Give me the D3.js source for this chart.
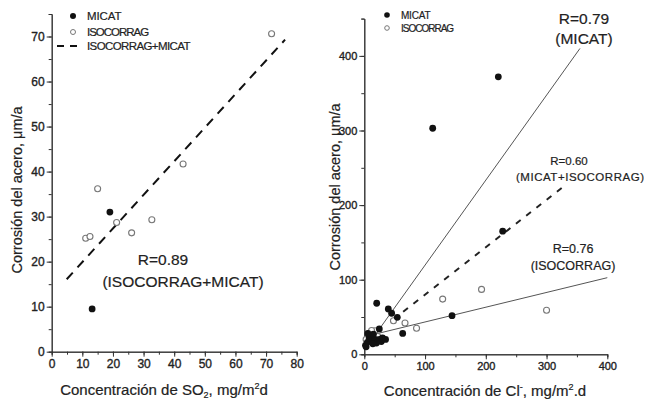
<!DOCTYPE html>
<html>
<head>
<meta charset="utf-8">
<script src="https://cdn.jsdelivr.net/npm/d3@7"></script>
<style>
body { margin:0; background:#fff; }
svg { font-family: "Liberation Sans", Arial, sans-serif; }
.axis path, .axis line { stroke:#333; }
.axis text { fill:#222; stroke:#222; stroke-width:0.35px; font-size:12px; }
.lbl { fill:#222; stroke:#222; stroke-width:0.2px; }
</style>
</head>
<body>
<div id="chart"></div>
<script>
// left panel: SO2
var so2_micat_x = [19.0, 13.2];
var so2_micat_y = [31.0, 9.5];
var so2_iso_x = [71.8, 42.9, 15.0, 11.1, 12.5, 21.2, 26.1, 32.7];
var so2_iso_y = [70.6, 41.7, 36.2, 25.2, 25.6, 28.7, 26.4, 29.3];
var so2_fit_x = [4.9, 76.2];
var so2_fit_y = [16.1, 69.3];
var so2_xticks = [0, 10, 20, 30, 40, 50, 60, 70, 80];
var so2_yticks = [0, 10, 20, 30, 40, 50, 60, 70];

// right panel: Cl-
var cl_micat_x = [112.6, 220.6, 227.8, 144.4, 63.2, 20.4, 39.5, 45, 54.3, 24.7,
                  2, 5, 8, 10, 12, 15, 18, 20, 25, 28, 30, 35, 6, 3, 14];
var cl_micat_y = [303, 372, 165, 51.8, 28, 68.4, 60.7, 55, 49.6, 34,
                  12, 16, 22, 25, 18, 27, 20, 15, 20, 17, 22, 20, 28, 10, 14];
var cl_iso_x = [193, 300, 129, 86, 67, 48, 17.6, 3, 8, 12, 22];
var cl_iso_y = [87, 59, 74, 35, 42, 45, 31.6, 20, 28, 32, 24];
var cl_fit_micat_x = [15, 355];
var cl_fit_micat_y = [22.7, 410];
var cl_fit_all_x = [64, 325];
var cl_fit_all_y = [57.1, 222.9];
var cl_fit_iso_x = [15, 400];
var cl_fit_iso_y = [26.5, 102.7];
var cl_xticks = [0, 100, 200, 300, 400];
var cl_yticks = [0, 100, 200, 300, 400];

var svg = d3.select("#chart").append("svg").attr("width", 651).attr("height", 402);

function pairs(xs, ys) { return xs.map(function(x, i) { return [x, ys[i]]; }); }

function panel(cfg) {
    var g = svg.append("g");
    var x = d3.scaleLinear().domain(cfg.xdom).range(cfg.xr);
    var y = d3.scaleLinear().domain(cfg.ydom).range(cfg.yr);

    var minorX = d3.range(cfg.xdom[0], cfg.xdom[1] + 0.001, cfg.xminor);
    var minorY = d3.range(cfg.ydom[0], cfg.ydom[1] + 0.001, cfg.yminor);

    g.append("g").attr("class", "axis").attr("transform", "translate(0," + cfg.yr[0] + ")")
        .call(d3.axisBottom(x).tickValues(minorX).tickSize(3).tickFormat(""));
    g.append("g").attr("class", "axis").attr("transform", "translate(0," + cfg.yr[0] + ")")
        .call(d3.axisBottom(x).tickValues(cfg.xticks).tickSize(5).tickSizeOuter(0).tickPadding(3))
        .selectAll("text").style("font-size", cfg.tickFont + "px");
    g.append("g").attr("class", "axis").attr("transform", "translate(" + cfg.xr[0] + ",0)")
        .call(d3.axisLeft(y).tickValues(minorY).tickSize(3).tickFormat(""));
    g.append("g").attr("class", "axis").attr("transform", "translate(" + cfg.xr[0] + ",0)")
        .call(d3.axisLeft(y).tickValues(cfg.yticks).tickSize(5).tickSizeOuter(0).tickPadding(2))
        .selectAll("text").style("font-size", cfg.tickFont + "px");

    var line = d3.line().x(function(d) { return x(d[0]); }).y(function(d) { return y(d[1]); });
    cfg.lines.forEach(function(l) {
        g.append("path").attr("d", line(pairs(l.x, l.y)))
            .attr("fill", "none").attr("stroke", l.color)
            .attr("stroke-width", l.width).attr("stroke-dasharray", l.dash || null);
    });

    g.selectAll("circle.iso").data(pairs(cfg.isoX, cfg.isoY)).enter().append("circle")
        .attr("cx", function(d) { return x(d[0]); }).attr("cy", function(d) { return y(d[1]); })
        .attr("r", cfg.r).attr("fill", "#fff").attr("stroke", "#777").attr("stroke-width", 1.1);
    g.selectAll("circle.micat").data(pairs(cfg.micatX, cfg.micatY)).enter().append("circle")
        .attr("cx", function(d) { return x(d[0]); }).attr("cy", function(d) { return y(d[1]); })
        .attr("r", cfg.r + 0.4).attr("fill", "#111");

    g.append("text").attr("class", "lbl")
        .attr("transform", "translate(" + cfg.ytitle[0] + "," + cfg.ytitle[1] + ") rotate(-90)")
        .attr("text-anchor", "middle").attr("font-size", 14.5)
        .text("Corrosión del acero,  μm/a");
    return g;
}

// left
var gl = panel({
    xdom: [0, 80], ydom: [0, 75], xr: [51.7, 296.7], yr: [351.7, 14],
    xticks: so2_xticks, yticks: so2_yticks, xminor: 5, yminor: 5, r: 3, tickFont: 12,
    micatX: so2_micat_x, micatY: so2_micat_y, isoX: so2_iso_x, isoY: so2_iso_y,
    lines: [{x: so2_fit_x, y: so2_fit_y, color: "#111", width: 2, dash: "9,7"}],
    ytitle: [22, 190]
});
var tl = gl.append("text").attr("class", "lbl").attr("x", 164).attr("y", 395).attr("text-anchor", "middle")
    .attr("font-size", 15);
tl.append("tspan").text("Concentración de SO");
tl.append("tspan").attr("font-size", 9).attr("dy", 3).text("2");
tl.append("tspan").attr("dy", -3).text(", mg/m");
tl.append("tspan").attr("font-size", 9).attr("dy", -6).text("2");
tl.append("tspan").attr("dy", 6).text("d");

gl.append("text").attr("class", "lbl").attr("x", 163).attr("y", 265).attr("text-anchor", "middle")
    .attr("font-size", 15.5).text("R=0.89");
gl.append("text").attr("class", "lbl").attr("x", 183).attr("y", 287).attr("text-anchor", "middle")
    .attr("font-size", 15.5).text("(ISOCORRAG+MICAT)");

// left legend
gl.append("circle").attr("cx", 73).attr("cy", 16).attr("r", 3).attr("fill", "#111");
gl.append("circle").attr("cx", 73).attr("cy", 32).attr("r", 2.5).attr("fill", "#fff").attr("stroke", "#777");
gl.append("line").attr("x1", 57).attr("x2", 81).attr("y1", 46).attr("y2", 46)
    .attr("stroke", "#111").attr("stroke-width", 2).attr("stroke-dasharray", "7,6");
[["MICAT", 20], ["ISOCORRAG", 36], ["ISOCORRAG+MICAT", 50]].forEach(function(t) {
    gl.append("text").attr("class", "lbl").attr("x", 87).attr("y", t[1]).attr("font-size", 11.5)
        .attr("textLength", t[0].length * 6.9).text(t[0]);
});

// right
var gr = panel({
    xdom: [0, 400], ydom: [0, 450], xr: [364.3, 607.3], yr: [354.3, 18.6],
    xticks: cl_xticks, yticks: cl_yticks, xminor: 50, yminor: 50, r: 3, tickFont: 11,
    micatX: cl_micat_x, micatY: cl_micat_y, isoX: cl_iso_x, isoY: cl_iso_y,
    lines: [
        {x: cl_fit_micat_x, y: cl_fit_micat_y, color: "#555", width: 1},
        {x: cl_fit_all_x, y: cl_fit_all_y, color: "#222", width: 2, dash: "6,7"},
        {x: cl_fit_iso_x, y: cl_fit_iso_y, color: "#555", width: 1}
    ],
    ytitle: [340, 187]
});
var tr = gr.append("text").attr("class", "lbl").attr("x", 485).attr("y", 396).attr("text-anchor", "middle")
    .attr("font-size", 15);
tr.append("tspan").text("Concentración de Cl");
tr.append("tspan").attr("font-size", 9).attr("dy", -6).text("-");
tr.append("tspan").attr("dy", 6).text(", mg/m");
tr.append("tspan").attr("font-size", 9).attr("dy", -6).text("2");
tr.append("tspan").attr("dy", 6).text(".d");

gr.append("text").attr("class", "lbl").attr("x", 584).attr("y", 24).attr("text-anchor", "middle")
    .attr("font-size", 15.5).text("R=0.79");
gr.append("text").attr("class", "lbl").attr("x", 584).attr("y", 44).attr("text-anchor", "middle")
    .attr("font-size", 15.5).text("(MICAT)");
gr.append("text").attr("class", "lbl").attr("x", 569).attr("y", 165).attr("text-anchor", "middle")
    .attr("font-size", 11.5).text("R=0.60");
gr.append("text").attr("class", "lbl").attr("x", 580).attr("y", 181).attr("text-anchor", "middle")
    .attr("font-size", 11.5).attr("textLength", 128).text("(MICAT+ISOCORRAG)");
gr.append("text").attr("class", "lbl").attr("x", 573).attr("y", 253).attr("text-anchor", "middle")
    .attr("font-size", 12.5).text("R=0.76");
gr.append("text").attr("class", "lbl").attr("x", 573).attr("y", 270).attr("text-anchor", "middle")
    .attr("font-size", 12.5).text("(ISOCORRAG)");

// right legend
gr.append("circle").attr("cx", 387).attr("cy", 15).attr("r", 2.8).attr("fill", "#111");
gr.append("circle").attr("cx", 387).attr("cy", 28).attr("r", 2.3).attr("fill", "#fff").attr("stroke", "#777");
[["MICAT", 19], ["ISOCORRAG", 32]].forEach(function(t) {
    gr.append("text").attr("class", "lbl").attr("x", 401).attr("y", t[1]).attr("font-size", 10)
        .attr("textLength", t[0].length * 5.9).text(t[0]);
});
</script>
</body>
</html>
